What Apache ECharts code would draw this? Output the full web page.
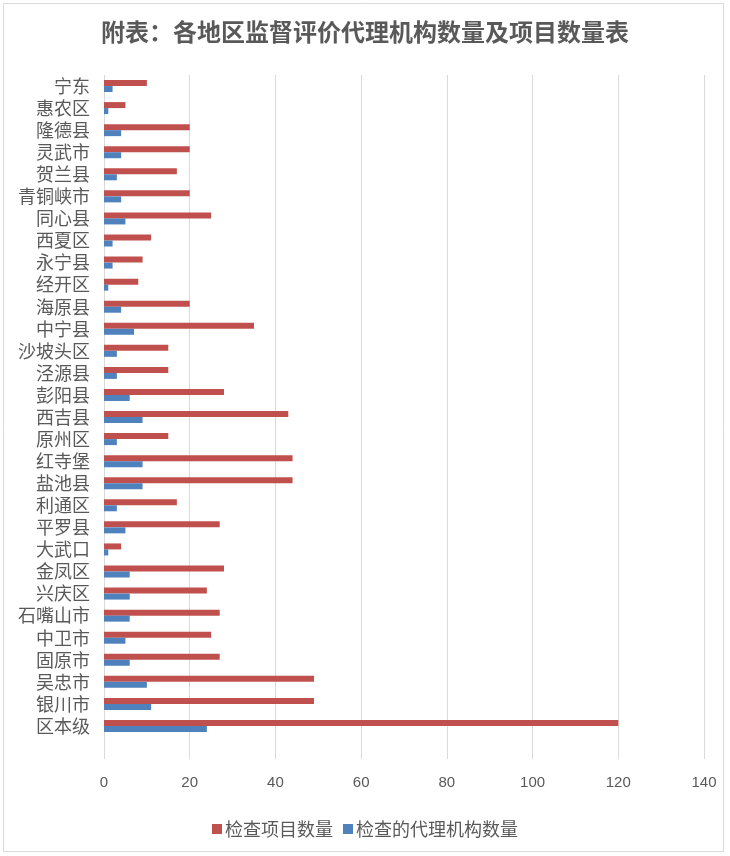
<!DOCTYPE html>
<html><head><meta charset="utf-8">
<script src="https://cdn.jsdelivr.net/npm/echarts@6/dist/echarts.min.js"></script>
<style>html,body{margin:0;padding:0;background:#fff}#c{width:730px;height:856px}</style>
</head><body><div id="c"></div>
<script>
// categories listed top to bottom as in the picture
const categories = ['宁东','惠农区','隆德县','灵武市','贺兰县','青铜峡市','同心县','西夏区','永宁县','经开区','海原县','中宁县','沙坡头区','泾源县','彭阳县','西吉县','原州区','红寺堡','盐池县','利通区','平罗县','大武口','金凤区','兴庆区','石嘴山市','中卫市','固原市','吴忠市','银川市','区本级'];
const projectCounts = [10,5,20,20,17,20,25,11,9,8,20,35,15,15,28,43,15,44,44,17,27,4,28,24,27,25,27,49,49,120];
const agencyCounts  = [2,1,4,4,3,4,5,2,2,1,4,7,3,3,6,9,3,9,9,3,5,1,6,6,6,5,6,10,11,24];
const xTicks = {min:0, max:140, interval:20};
const seriesNames = ['检查项目数量','检查的代理机构数量'];

const txt = '#595959';
const font = '"Noto Sans CJK SC","Noto Sans",sans-serif';
const chart = echarts.init(document.getElementById('c'), null, {renderer:'canvas'});
chart.setOption({
  animation:false,
  backgroundColor:'#fff',
  textStyle:{fontFamily:font},
  title:{text:'附表：各地区监督评价代理机构数量及项目数量表', left:'center', top:15,
    textStyle:{fontSize:24, fontWeight:'bold', color:txt, fontFamily:font}},
  legend:{data:seriesNames, top:815, left:'center', itemWidth:10, itemHeight:10, itemGap:10,
    icon:'rect', textStyle:{fontSize:18, color:txt, fontFamily:font, padding:[0,0,0,-2]}},
  graphic:[{type:'rect', shape:{x:3.5,y:3.5,width:720,height:848}, style:{fill:null, stroke:'#d9d9d9', lineWidth:1}, silent:true}],
  grid:[
    {left:104, top:75, width:600, height:684},
    {left:104, top:75, width:600, height:662}
  ],
  xAxis:[
    {type:'value', gridIndex:0, min:xTicks.min, max:xTicks.max, interval:xTicks.interval,
      axisLine:{show:false}, axisTick:{show:false},
      axisLabel:{fontSize:15, color:txt, margin:16, fontFamily:'"Liberation Sans Narrow","Liberation Sans",sans-serif'},
      splitLine:{lineStyle:{color:'#d9d9d9'}}},
    {type:'value', gridIndex:1, min:xTicks.min, max:xTicks.max, interval:xTicks.interval,
      show:false, splitLine:{show:false}}
  ],
  yAxis:[
    {type:'value', gridIndex:0, show:false, splitLine:{show:false}},
    {type:'category', gridIndex:1, data:categories, inverse:true,
      axisLine:{show:false}, axisTick:{show:false},
      axisLabel:{fontSize:18, color:txt, margin:14, interval:0, fontFamily:font},
      splitLine:{show:false}}
  ],
  series:[
    {name:seriesNames[0], type:'bar', xAxisIndex:1, yAxisIndex:1, data:projectCounts,
      barWidth:6, barGap:'0%', itemStyle:{color:'#C0504D'}},
    {name:seriesNames[1], type:'bar', xAxisIndex:1, yAxisIndex:1, data:agencyCounts,
      barWidth:6, barGap:'0%', itemStyle:{color:'#4F81BD'}}
  ]
});
</script></body></html>
